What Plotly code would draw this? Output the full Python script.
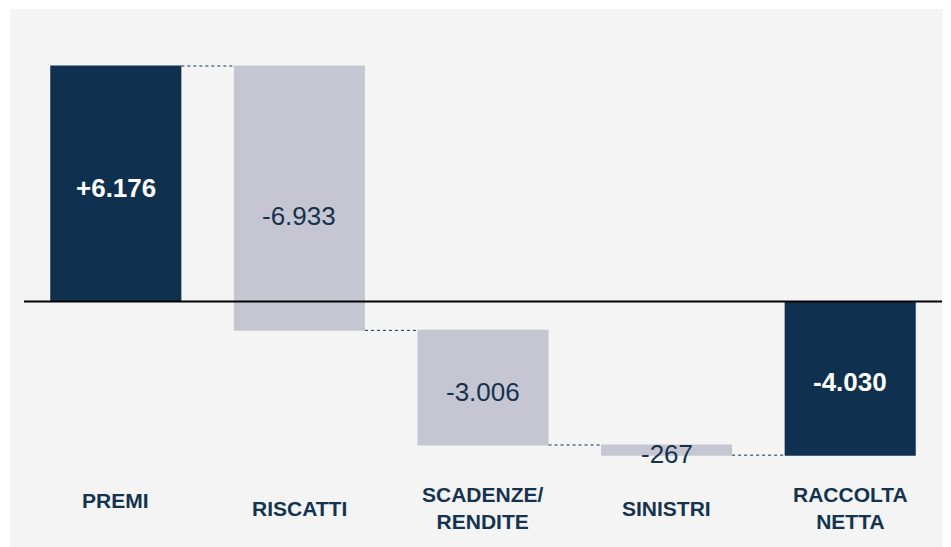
import plotly.graph_objects as go

categories = ["PREMI", "RISCATTI", "SCADENZE/<br>RENDITE", "SINISTRI", "RACCOLTA<br>NETTA"]
values = [6176, -6933, -3006, -267, -4030]
measures = ["relative", "relative", "relative", "relative", "total"]
value_labels = ["+6.176", "-6.933", "-3.006", "-267", "-4.030"]

NAVY = "#10304f"
GRAY = "#c6c6d3"
TEXT = "#14334f"
BG = "#f4f4f4"
FONT = "Liberation Sans, Arial, sans-serif"

# page has an 8px body margin, so the figure is sized/positioned to compensate
OFF = 8
W, H = 951 - OFF, 547 - OFF
ML, MR = 24 - OFF, 9
zero_px = 301.5 - OFF
top_px = 66.0 - OFF
k = (zero_px - top_px) / values[0]  # px per unit
y_top = zero_px / k
y_bot = -(H - zero_px) / k

x = list(range(len(categories)))

fig = go.Figure()
fig.add_trace(go.Waterfall(
    x=x, y=values, measure=measures,
    increasing=dict(marker=dict(color=NAVY)),
    decreasing=dict(marker=dict(color=GRAY)),
    totals=dict(marker=dict(color=NAVY)),
    connector=dict(mode="between", line=dict(color=NAVY, width=1, dash="dot")),
    hoverinfo="skip", showlegend=False,
))

# bar midpoints for value labels
cum = 0.0
mids = []
for v, m in zip(values, measures):
    if m == "total":
        mids.append(cum / 2)
    else:
        mids.append(cum + v / 2)
        cum += v

annotations = []
for i, (lab, mid, m) in enumerate(zip(value_labels, mids, measures)):
    dark = (m == "total") or values[i] > 0
    shift = -4 if i != 1 else -18
    annotations.append(dict(
        x=i, y=mid, xref="x", yref="y", text=("<b>%s</b>" % lab) if dark else lab,
        showarrow=False, yshift=shift,
        font=dict(family=FONT, size=26, color="white" if dark else TEXT),
    ))

for i, cat in enumerate(categories):
    ypx = (500 if i == 0 else 508) - OFF
    annotations.append(dict(
        x=i, y=1 - ypx / H, xref="x", yref="paper", text="<b>%s</b>" % cat,
        showarrow=False, yanchor="middle",
        font=dict(family=FONT, size=21, color=TEXT),
    ))

pw = W - ML - MR
shapes = [
    # white strips outside the grey panel
    dict(type="rect", xref="paper", yref="paper", x0=-ML / pw - 0.01, x1=(10 - OFF - ML) / pw, y0=-0.02, y1=1.02,
         fillcolor="white", line=dict(width=0), layer="below"),
    dict(type="rect", xref="paper", yref="paper", x0=-ML / pw - 0.01, x1=1 + MR / pw + 0.01, y0=1 - (9 - OFF) / H, y1=1.02,
         fillcolor="white", line=dict(width=0), layer="below"),
    # zero line
    dict(type="line", xref="paper", yref="y", x0=0, x1=1, y0=0, y1=0,
         line=dict(color="black", width=2), layer="above"),
]

fig.update_layout(
    width=W, height=H,
    margin=dict(l=ML, r=MR, t=0, b=0),
    paper_bgcolor=BG, plot_bgcolor=BG,
    waterfallgap=0.286,
    xaxis=dict(range=[-0.5, len(categories) - 0.5], showticklabels=False, showgrid=False,
               zeroline=False, showline=False),
    yaxis=dict(range=[y_bot, y_top], showticklabels=False, showgrid=False,
               zeroline=False, showline=False),
    annotations=annotations,
    shapes=shapes,
)

fig.write_html("out.html")
